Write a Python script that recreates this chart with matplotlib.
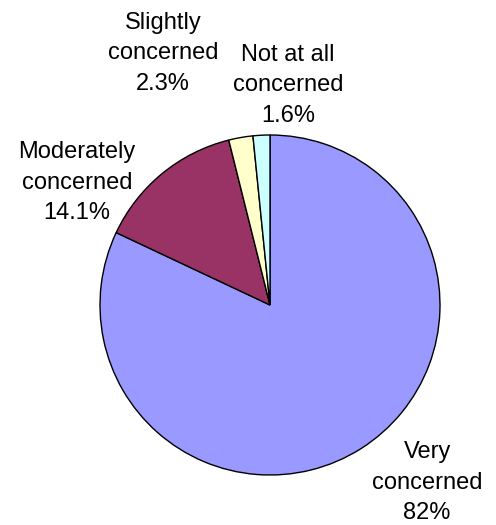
import matplotlib
matplotlib.use("Agg")
import matplotlib.pyplot as plt

categories = ["Very\nconcerned", "Moderately\nconcerned", "Slightly\nconcerned", "Not at all\nconcerned"]
shares = [82, 14.1, 2.3, 1.6]
pct_labels = ["82%", "14.1%", "2.3%", "1.6%"]

colors = ["#9999FF", "#993366", "#FFFFCC", "#CCFFFF"]
# label centres in pie units (radius = 1)
label_pos = [(0.924, -1.047), (-1.135, 0.718), (-0.629, 1.482), (0.106, 1.294)]

plt.rcParams['font.family'] = ['Liberation Sans', 'DejaVu Sans']

W, H, dpi = 496, 525, 100
scale = 170.0          # pixels per pie unit
cx, cy = 270, 305      # pie centre in pixels (from top-left)

fig = plt.figure(figsize=(W / dpi, H / dpi), dpi=dpi)
ax = fig.add_axes([0, 0, 1, 1])

ax.pie(shares, colors=colors, startangle=90, counterclock=False,
       wedgeprops=dict(edgecolor="black", linewidth=1.0))

for cat, pct, (lx, ly) in zip(categories, pct_labels, label_pos):
    ax.text(lx, ly, cat + "\n" + pct, ha="center", va="center",
            fontsize=17, linespacing=1.5, color="black")

ax.set_xlim(-cx / scale, (W - cx) / scale)
ax.set_ylim(-(H - cy) / scale, cy / scale)
ax.set_aspect("equal")
ax.axis("off")

fig.savefig("out.png", dpi=dpi)
